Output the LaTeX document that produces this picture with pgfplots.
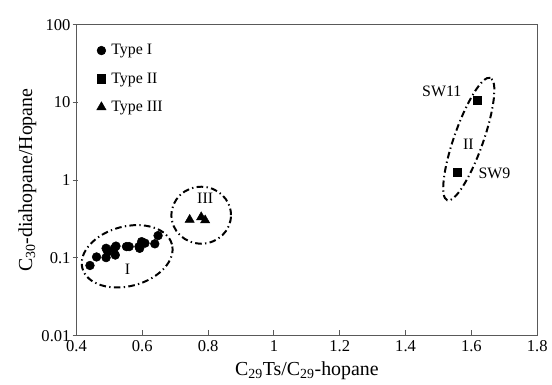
\documentclass[border=0pt]{standalone}
\usepackage{pgfplots}
\pgfplotsset{compat=1.18}
\usepackage{fontspec}
\setmainfont{Liberation Serif}
\begin{document}
\begin{tikzpicture}
\begin{axis}[
  scale only axis,
  width=348pt, height=234.75pt,
  xmin=0.4, xmax=1.8,
  ymode=log, ymin=0.01, ymax=100,
  xtick={0.4,0.6,0.8,1,1.2,1.4,1.6,1.8},
  xticklabels={0.4,0.6,0.8,1,1.2,1.4,1.6,1.8},
  ytick={0.01,0.1,1,10,100},
  yticklabels={0.01,0.1,1,10,100},
  minor tick num=0,
  yminorticks=false,
  axis line style={black!65, line width=0.8pt},
  tick style={black!65, line width=0.8pt},
  tick align=inside,
  xtick pos=bottom, ytick pos=left,
  ytick style={xshift=-0.1cm},
  tick label style={font=\fontsize{12.5}{14}\selectfont},
  yticklabel style={xshift=-1pt},
  /pgf/number format/assume math mode=true,
  xlabel={C\textsubscript{29}Ts/C\textsubscript{29}-hopane},
  ylabel={C\textsubscript{30}-diahopane/Hopane},
  label style={font=\fontsize{15}{17}\selectfont},
  xlabel style={yshift=-1pt},
  ylabel style={yshift=-3pt},
  legend style={draw=none, fill=none, at={(0.035,0.955)}, anchor=north west,
    font=\fontsize{12}{14}\selectfont, row sep=8pt,
    nodes={inner xsep=4pt}},
  legend cell align=left,
  clip=false,
]
\addplot[only marks, mark=*, mark size=3.3pt, black] coordinates {
(0.441,0.080) (0.461,0.103) (0.490,0.101) (0.490,0.133) (0.495,0.120)
(0.515,0.133) (0.518,0.109) (0.520,0.142) (0.552,0.140) (0.560,0.140)
(0.590,0.140) (0.592,0.133) (0.598,0.162) (0.608,0.155) (0.638,0.152) (0.648,0.194)
};
\addlegendentry{Type I}
\addplot[only marks, mark=square*, mark size=3.1pt, black] coordinates {
(1.618,10.8) (1.558,1.27)
};
\addlegendentry{Type II}
\addplot[only marks, mark=triangle*, mark size=4pt, black] coordinates {
(0.744,0.31) (0.779,0.335) (0.791,0.305)
};
\addlegendentry{Type III}

\draw[black, line width=1.5pt, dash pattern=on 5pt off 2.5pt on 1pt off 2.5pt]
  (axis cs:0.554,0.105) ellipse[x radius=35pt, y radius=22.5pt, rotate=15];
\draw[black, line width=1.5pt, dash pattern=on 5pt off 2.5pt on 1pt off 2.5pt]
  (axis cs:0.779,0.355) ellipse[x radius=22.5pt, y radius=21.5pt];
\draw[black, line width=1.5pt, dash pattern=on 5pt off 2.5pt on 1pt off 2.5pt]
  (axis cs:1.592,3.39) ellipse[x radius=49pt, y radius=11pt, rotate=70.6];

\node[font=\fontsize{12}{14}\selectfont] at (axis cs:1.510,13.9) {SW11};
\node[font=\fontsize{12}{14}\selectfont] at (axis cs:1.670,1.21) {SW9};
\node[font=\fontsize{12}{14}\selectfont] at (axis cs:1.591,2.93) {II};
\node[font=\fontsize{12}{14}\selectfont] at (axis cs:0.555,0.0718) {I};
\node[font=\fontsize{12}{14}\selectfont] at (axis cs:0.791,0.59) {III};
\end{axis}
\path ([xshift=-57.75pt,yshift=-36.75pt]current axis.south west) rectangle ([xshift=8.25pt,yshift=18.75pt]current axis.north east);
\end{tikzpicture}
\end{document}
